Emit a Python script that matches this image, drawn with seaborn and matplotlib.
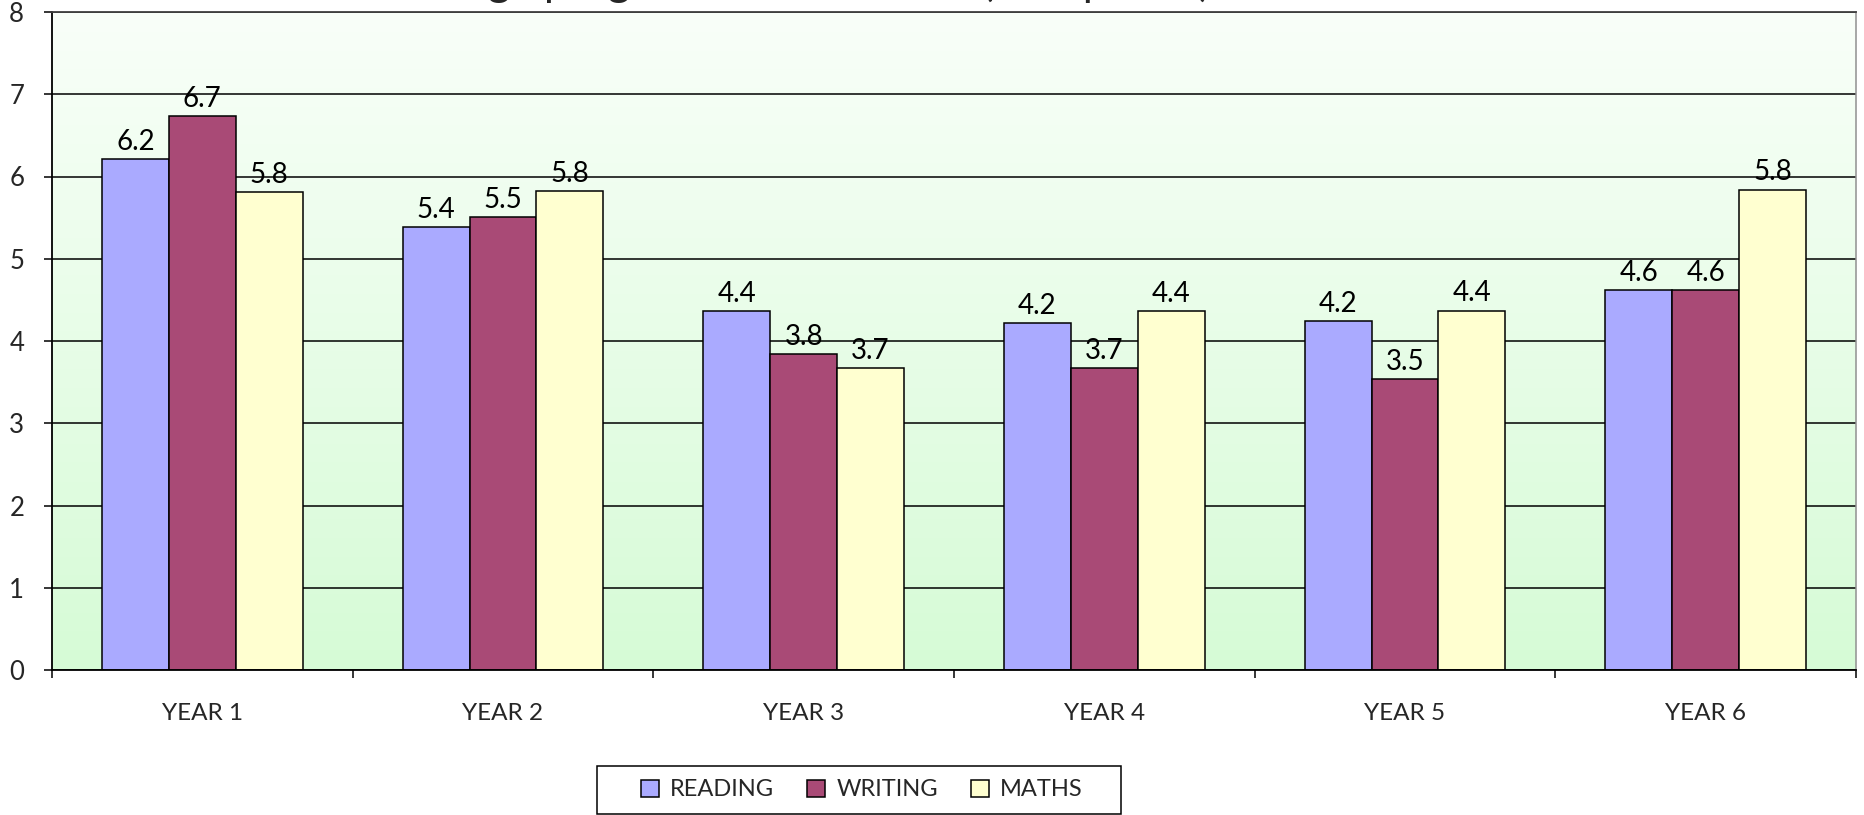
import numpy as np
import pandas as pd
import matplotlib
matplotlib.use("Agg")
import matplotlib.pyplot as plt
from matplotlib.colors import LinearSegmentedColormap
from matplotlib.patches import Rectangle
import seaborn as sns

# Average progress per year group, by subject
years = ["YEAR 1", "YEAR 2", "YEAR 3", "YEAR 4", "YEAR 5", "YEAR 6"]
subjects = ["READING", "WRITING", "MATHS"]
reading = [6.21, 5.39, 4.36, 4.22, 4.24, 4.62]
writing = [6.73, 5.51, 3.84, 3.67, 3.54, 4.62]
maths = [5.81, 5.82, 3.67, 4.36, 4.37, 5.84]
colors = ["#AAAAFF", "#A94A76", "#FFFFD0"]
title = "Stage progress from baseline (APS points)"

df = pd.DataFrame({
    "year": years * 3,
    "subject": np.repeat(subjects, len(years)),
    "value": reading + writing + maths,
})

sns.set_style("white")
plt.rcParams["font.family"] = ["Lato", "DejaVu Sans"]

W, H = 1864, 815
fig = plt.figure(figsize=(W / 100, H / 100), dpi=100)
ax = fig.add_axes([52 / W, 1 - 670 / H, (1856 - 52) / W, (670 - 12) / H])

sns.barplot(data=df, x="year", y="value", hue="subject", order=years,
            hue_order=subjects, palette=colors, width=0.667, gap=0,
            edgecolor="black", linewidth=1.1, saturation=1, ax=ax,
            legend=True, zorder=3)

# Soft green vertical gradient behind the plot
cmap = LinearSegmentedColormap.from_list("bg", ["#D6FBD6", "#F9FFF9"])
grad = np.linspace(0, 1, 256).reshape(-1, 1)
ax.imshow(grad, cmap=cmap, aspect="auto", origin="lower",
          extent=[0, 1, 0, 1], transform=ax.transAxes, zorder=0)

ax.set_xlim(-0.5, 5.5)
ax.set_ylim(0, 8)
ax.set_yticks(range(0, 9))
ax.yaxis.grid(True, color="black", linewidth=1.1, zorder=1)
ax.xaxis.grid(False)
ax.set_axisbelow(True)

for cont in ax.containers:
    ax.bar_label(cont, fmt="%.1f", padding=3, fontsize=20, color="black")

ax.set_xlabel("")
ax.set_ylabel("")
ax.set_xticks(range(len(years)))
ax.set_xticklabels(years)
ax.set_xticks(np.arange(-0.5, 6, 1.0), minor=True)
ax.tick_params(axis="x", which="major", length=0, pad=23.5, labelsize=17.5)
ax.tick_params(axis="x", which="minor", length=6, width=1.1, color="black",
               direction="out", bottom=True)
ax.tick_params(axis="y", length=6, width=1.1, color="black", direction="out",
               left=True, pad=14, labelsize=18.5)

for side in ["left", "bottom"]:
    ax.spines[side].set_color("black")
    ax.spines[side].set_linewidth(1.3)
ax.spines["top"].set_color("#404040")
ax.spines["top"].set_linewidth(1.3)
ax.spines["right"].set_color("#909090")
ax.spines["right"].set_linewidth(1.1)
for s in ax.spines.values():
    s.set_zorder(4)

handles, labels = ax.get_legend_handles_labels()
ax.get_legend().remove()
leg = fig.legend(handles, labels, loc="center", bbox_to_anchor=(862 / W, 1 - 790 / H),
                 ncol=3, frameon=False, fontsize=17,
                 handlelength=0.76, handleheight=0.76, handletextpad=0.47,
                 columnspacing=1.4, borderpad=0.2)
# Rectangular border around the legend entries
fig.patches.append(Rectangle((597 / W, 1 - 814 / H), (1121 - 597) / W, 48 / H,
                             transform=fig.transFigure, fill=False,
                             edgecolor="black", linewidth=1.1))

fig.text(428 / W, 1 + 4 / H, title, fontsize=31, ha="left", va="baseline")

fig.savefig("out.png", dpi=100)
